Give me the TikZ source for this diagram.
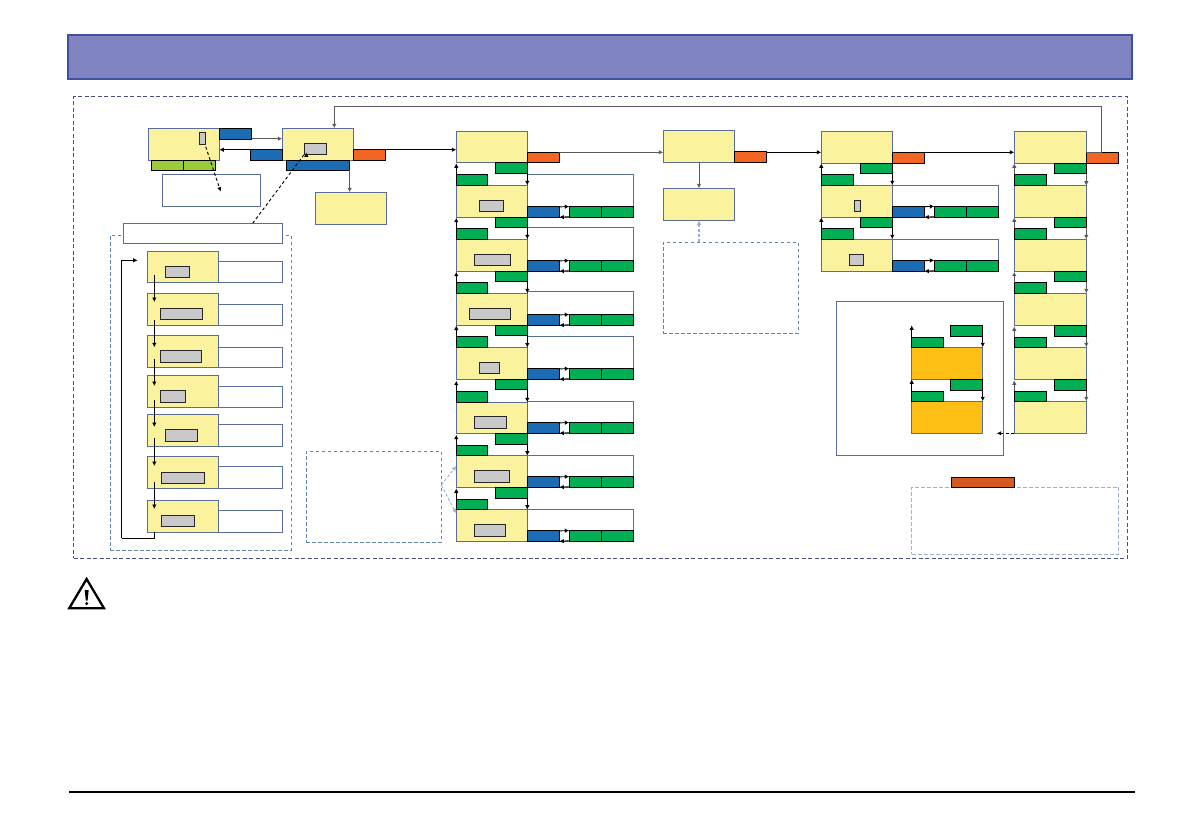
\documentclass[tikz,border=0pt]{standalone}
\usetikzlibrary{arrows.meta}
\definecolor{yel}{HTML}{FBF29D}
\definecolor{edge}{HTML}{5A6C98}
\definecolor{gre}{HTML}{00AE53}
\definecolor{blu}{HTML}{1B6CB5}
\definecolor{ora}{HTML}{F26522}
\definecolor{lea}{HTML}{9BCB3C}
\definecolor{amb}{HTML}{FDBF14}
\definecolor{gry}{HTML}{C9C9C9}
\definecolor{hdr}{HTML}{8085C2}
\definecolor{hde}{HTML}{3F50A0}
\definecolor{dsh}{HTML}{4A4E8A}
\definecolor{dsi}{HTML}{5F86A8}
\definecolor{dsl}{HTML}{9DB0CC}
\tikzset{
  base/.style={inner sep=0pt,outer sep=0pt,anchor=north west},
  yelbox/.style={base,draw=edge,fill=yel,line width=0.9pt},
  ambbox/.style={base,draw=edge,fill=amb,line width=0.9pt},
  outbox/.style={base,draw=edge,fill=white,line width=0.9pt},
  grebox/.style={base,draw=black,fill=gre,line width=0.9pt},
  blubox/.style={base,draw=black,fill=blu,line width=0.9pt},
  orabox/.style={base,draw=black,fill=ora,line width=0.9pt},
  leabox/.style={base,draw=black,fill=lea,line width=0.9pt},
  grybox/.style={base,draw=black!85,fill=gry,line width=0.9pt},
  dashbox/.style={base,draw=dsi,dash pattern=on 3.5pt off 2.5pt,line width=0.8pt},
  conn/.style={line width=0.9pt,-{Latex[length=4.5pt,width=4.5pt]}},
  grayconn/.style={conn,draw=black!65},
  plainline/.style={line width=0.9pt},
  dashconn/.style={conn,dash pattern=on 3pt off 2.5pt},
  lightconn/.style={line width=0.9pt,draw=dsl,dash pattern=on 3pt off 2pt,-{Latex[length=4.5pt,width=4.5pt]}}
}
\newcommand\bx[6]{\pgfmathsetmacro\bxw{#5-#3}\pgfmathsetmacro\bxh{#6-#4}%
  \node[#2,minimum width=\bxw pt,minimum height=\bxh pt] (#1) at (#3,#4) {};}
\begin{document}
\begin{tikzpicture}[x=1pt,y=-1pt]
\useasboundingbox (0,0) rectangle (1191,839);
\fill[white] (0,0) rectangle (1191,839);
% header and frames
\bx{hdrbar}{base,draw=hde,fill=hdr,line width=2pt}{68}{35}{1132}{79}
\bx{outer}{base,draw=dsh,dash pattern=on 4pt off 2.5pt,line width=0.8pt}{73.5}{96.5}{1127.5}{558}
\bx{inner}{dashbox}{110.3}{235.3}{291.3}{550.3}
\bx{notes}{dashbox}{306.3}{451.3}{441.3}{542.3}
\bx{notem}{dashbox}{663.3}{242.3}{798.3}{333.3}
\bx{noter}{base,draw=dsl,dash pattern=on 4pt off 2pt,line width=0.8pt}{911.7}{487.3}{1118.7}{554.3}
\bx{notero}{base,draw=black,fill=ora!88!black,line width=0.9pt}{951.3}{477.3}{1014.3}{487.3}
% first row
\bx{A}{yelbox}{148.3}{128.3}{219.3}{160.3}
\bx{Aout}{blubox}{219.3}{128.3}{251.7}{139.3}
\bx{Agrey}{grybox}{199.3}{132}{205.7}{144.7}
\bx{Ag1}{leabox}{151.3}{160.3}{183.3}{170.3}
\bx{Ag2}{leabox}{183.3}{160.3}{215.3}{170.3}
\bx{Anote}{outbox}{162.3}{174.3}{260.7}{206.3}
\bx{B}{yelbox}{282.3}{128.3}{353.3}{160.3}
\bx{Bin}{blubox}{250.3}{149.3}{282.3}{160.3}
\bx{Bora}{orabox}{353.3}{149.3}{385.3}{160.3}
\bx{Bblu}{blubox}{286.3}{160.3}{349.7}{170.3}
\bx{Bgrey}{grybox}{304.3}{143.3}{326.7}{154.3}
\bx{C}{yelbox}{315.3}{192.3}{386.3}{224.3}
\bx{Ltitle}{outbox}{123.3}{223.3}{282.3}{243.3}
% list column: index / y1 / y2 / grey x1 / grey x2 / grey y1 / grey y2 / note y1
\foreach \n/\ya/\yb/\ga/\gb/\gc/\gd/\wy in {
  1/251.3/282.3/165.3/189.7/266.3/277.3/261.3,
  2/293.3/325.3/160.3/202.7/308.3/319.3/304.3,
  3/335.3/367.3/160.3/201.7/350.3/362.3/347.3,
  4/375.3/407.3/160.3/185.7/390.3/402.3/386.3,
  5/414.3/446.3/165.3/197.7/429.3/441.3/424.3,
  6/456.3/488.3/161.3/204.7/472.3/483.7/466.3,
  7/500.3/532.3/161.3/194.7/515.3/526.7/510.3}{
  \bx{Lw\n}{outbox}{218.3}{\wy}{282.5}{\yb}
  \bx{L\n}{yelbox}{147.3}{\ya}{218.3}{\yb}
  \bx{Lg\n}{grybox}{\ga}{\gc}{\gb}{\gd}
}
% column 3 boxes: index / y1 / y2 / grey x1 / x2 / y1 / y2 / outline top
\bx{P1}{yelbox}{456.3}{131.5}{527.3}{162.7}
\bx{P1o}{orabox}{527.3}{152.3}{559.3}{162.7}
\foreach \n/\ya/\yb/\ga/\gb/\gc/\gd/\ot in {
  2/185.3/217.3/479.3/503.3/200.3/211.3/174.3,
  3/239.3/271.3/474.3/510.7/254.3/265.7/227.3,
  4/293.3/325.3/469.3/510.7/308.3/319.3/291.3,
  5/347.5/379.3/479.3/499.7/362.3/373.3/336.3,
  6/402.3/433.3/474.3/506.7/416.3/428.7/401.3,
  7/455.7/487.3/474.3/509.7/470.3/482.7/455.3,
  8/509.7/541.3/474.3/505.7/524.3/536.7/509.3}{
  \pgfmathsetmacro\by{\yb-10.8}
  \bx{Pw\n}{outbox}{527.3}{\ot}{633.7}{\yb}
  \bx{P\n}{yelbox}{456.3}{\ya}{527.3}{\yb}
  \bx{Pg\n}{grybox}{\ga}{\gc}{\gb}{\gd}
  \fill[white] (559.3,\by) rectangle (569.3,\yb);
  \bx{Pb\n}{blubox}{527.3}{\by}{559.3}{\yb}
  \bx{Pl\n}{grebox}{569.3}{\by}{601.7}{\yb}
  \bx{Pr\n}{grebox}{601.7}{\by}{633.7}{\yb}
}
% column 3 green pairs: index / upper y1 / y2 / lower y1 / y2
\foreach \n/\ya/\yb/\yc/\yd in {
  1/162.7/173.3/174.3/185.3,
  2/217.3/227.3/228.7/239.3,
  3/271.3/281.7/282.7/293.3,
  4/325.3/335.3/336.5/347.5,
  5/379.3/389.7/391.7/402.3,
  6/433.3/444.7/445.7/455.7,
  7/487.3/498.7/499.3/509.7}{
  \bx{Pa\n}{grebox}{495.3}{\ya}{527.3}{\yb}
  \bx{Pc\n}{grebox}{456.3}{\yc}{487.7}{\yd}
}
% column 4
\bx{M1}{yelbox}{663.3}{130.3}{734.7}{162.3}
\bx{M1o}{orabox}{734.7}{151.3}{766.7}{162.3}
\bx{M2}{yelbox}{663.3}{188.3}{734.7}{220.3}
% column 5
\bx{Q1}{yelbox}{821.3}{131.7}{892.3}{163.3}
\bx{Q1o}{orabox}{892.3}{152.3}{924.3}{163.3}
\foreach \n/\ya/\yb/\ga/\gb/\gc/\gd in {
  2/185.3/217.3/854.3/860/200.3/211.3,
  3/239.3/271.3/849.3/863.7/254.3/265.7}{
  \pgfmathsetmacro\by{\yb-11}
  \bx{Qw\n}{outbox}{892.3}{\ya}{998.7}{\yb}
  \bx{Q\n}{yelbox}{821.3}{\ya}{892.3}{\yb}
  \bx{Qg\n}{grybox}{\ga}{\gc}{\gb}{\gd}
  \fill[white] (924.3,\by) rectangle (934.3,\yb);
  \bx{Qb\n}{blubox}{892.3}{\by}{924.3}{\yb}
  \bx{Ql\n}{grebox}{934.3}{\by}{966.7}{\yb}
  \bx{Qr\n}{grebox}{966.7}{\by}{998.7}{\yb}
}
\foreach \n/\ya/\yb/\yc/\yd in {1/163.3/173.3/174.3/185.3, 2/217.3/227.3/228.3/239.3}{
  \bx{Qa\n}{grebox}{860.3}{\ya}{892.3}{\yb}
  \bx{Qc\n}{grebox}{821.3}{\yc}{853.3}{\yd}
}
% legend
\bx{Leg}{outbox}{836.3}{301.7}{1003.7}{455.3}
\bx{Y1}{ambbox}{911.7}{347.3}{982.7}{379.3}
\bx{Y2}{ambbox}{911.7}{401.3}{982.7}{433.3}
\bx{Ya0}{grebox}{950.3}{325.3}{982.7}{336.7}
\bx{Yc0}{grebox}{911.7}{337.3}{943.7}{347.3}
\bx{Ya1}{grebox}{950.3}{379.3}{982.7}{390.7}
\bx{Yc1}{grebox}{911.7}{391.3}{943.7}{401.3}
% column 6
\bx{R1}{yelbox}{1014.3}{131.3}{1086.3}{163.3}
\bx{R1o}{orabox}{1086.3}{152.3}{1118.7}{163.3}
\bx{R2}{yelbox}{1014.3}{185.7}{1086.3}{217.3}
\bx{R3}{yelbox}{1014.3}{239.3}{1086.3}{271.3}
\bx{R4}{yelbox}{1014.3}{293.3}{1086.3}{325.3}
\bx{R5}{yelbox}{1014.3}{347.3}{1086.3}{379.3}
\bx{R6}{yelbox}{1014.3}{401.3}{1086.3}{433.3}
\foreach \n/\ya/\yb/\yc/\yd in {
  1/163.3/173.7/174.3/185.7,
  2/217.3/227.3/228.3/239.3,
  3/271.3/281.7/282.7/293.3,
  4/325.3/336.7/337.3/347.3,
  5/379.3/390.7/391.3/401.3}{
  \bx{Ra\n}{grebox}{1054.3}{\ya}{1086.3}{\yb}
  \bx{Rc\n}{grebox}{1014.3}{\yc}{1046.7}{\yd}
}
% connectors, first row
\coordinate (topturn) at (1101.3,106);
\coordinate (dashA) at (220.7,191.7);
\draw[grayconn] (R1o.north west) -- ++(15,0) |- (topturn) -| (334.3,128.3);
\draw[grayconn] (Aout.east |- 0,138.7) -- (B.west |- 0,138.7);
\draw[conn] (Bin.north west) ++(0,0.4) -- (A.east |- 0,149.7);
\draw[dashconn] (Agrey.south east) ++(0,2) -- (dashA);
\draw[dashconn] (Ltitle.north east) ++(-29.6,0) -- (Bgrey.south west) ++(2,-2);
\draw[grayconn] (Bblu.south east) -- (C.north -| Bblu.south east);
\draw[conn] (Bora.north east) ++(0,0.4) -- (P1.west |- 0,149.7);
% list chain
\coordinate (c0) at (154.3,275);
\coordinate (c1) at (154.3,320);
\coordinate (c2) at (154.3,359);
\coordinate (c3) at (154.3,400);
\coordinate (c4) at (154.3,438);
\coordinate (c5) at (154.3,482);
\draw[conn] (c0) -- (154.3,302);
\draw[conn] (c1) -- (154.3,347.3);
\draw[conn] (c2) -- (154.3,386);
\draw[conn] (c3) -- (154.3,427);
\draw[conn] (c4) -- (154.3,466);
\draw[conn] (c5) -- (154.3,509);
\coordinate (loopin) at (137.7,260.3);
\draw[plainline] (L7.south west) ++(7,0) -- ++(0,6) -- (121.7,538.3);
\draw[conn] (121.7,538.3) |- (loopin);
% column 3 connectors
\draw[grayconn] (P1o.north east) -- (M1.west |- P1o.north east);
\foreach \a/\b in {1/2,2/3,3/4,4/5,5/6,6/7,7/8}{
  \draw[conn] (Pc\a.north west) -- ++(0,-11);
  \draw[conn] (Pa\a.south east) -- (P\b.north east);
}
\foreach \n in {2,3,4,5,6,7,8}{
  \draw[conn] (Pb\n.north east) ++(0,0.4) -- (Pl\n.north west);
  \draw[conn] (Pl\n.south west) ++(0,-0.6) -- (Pb\n.south east);
}
% column 4 and 5 connectors
\draw[grayconn] (M1.south) -- (M2.north);
\draw[lightconn,line width=1.4pt] (notem.north -| M2.south) -- (M2.south);
\draw[conn] (M1o.north east) ++(0,1) -- (Q1.west |- 0,152.3);
\draw[conn] (Q1o.north east) -- (R1.west |- Q1o.north east);
\foreach \a/\b in {1/2,2/3}{
  \draw[conn] (Qc\a.north west) -- ++(0,-11);
  \draw[conn] (Qa\a.south east) -- (Q\b.north east);
}
\foreach \n in {2,3}{
  \draw[conn] (Qb\n.north east) ++(0,0.4) -- (Ql\n.north west);
  \draw[conn] (Ql\n.south west) ++(0,-0.6) -- (Qb\n.south east);
}
% legend connectors
\draw[conn] (Yc0.north west) -- ++(0,-12);
\draw[conn] (Ya0.south east) -- (Y1.north east);
\draw[conn] (Yc1.north west) -- (Y1.south west);
\draw[conn] (Ya1.south east) -- (Y2.north east);
\draw[dashconn] (R6.south west) -- ++(-17.6,0);
% column 6 connectors
\foreach \a/\b in {1/2,2/3,3/4,4/5,5/6}{
  \draw[grayconn] (Rc\a.north west) -- ++(0,-11);
  \draw[grayconn] (Ra\a.south east) -- (R\b.north east);
}
% notes to column 3
\coordinate (notesout) at (441.3,485);
\draw[lightconn] (notesout) -- (P7.west |- 0,466);
\draw[lightconn] (notesout) -- (P8.west |- 0,513.3);
% warning sign
\node[base,minimum width=1pt,minimum height=1pt] (warn) at (67,576) {};
\draw[line width=2.3pt,line join=miter] (86.6,579) -- (104,608.3) -- (69.2,608.3) -- cycle;
\fill[black] (84.7,590) -- (88.7,590) -- (87.6,600.5) -- (85.8,600.5) -- cycle;
\fill[black] (86.7,603.5) circle (1.7pt);
% footer rule
\coordinate (ruleL) at (69,792);
\coordinate (ruleR) at (1135,792);
\draw[line width=1.5pt] (ruleL) -- (ruleR);
\end{tikzpicture}
\end{document}
